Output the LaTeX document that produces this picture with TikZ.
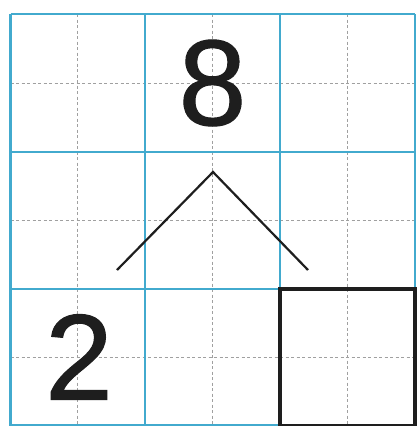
\documentclass[tikz,border=0pt]{standalone}
\usepackage{fontspec}
\setmainfont{Liberation Sans}
\newfontfamily\digitfont{Liberation Sans}[FakeBold=0.9]
\definecolor{gridcyan}{RGB}{66,170,206}
\definecolor{midgray}{RGB}{160,160,160}
\definecolor{ink}{RGB}{30,30,30}
\begin{document}
\begin{tikzpicture}[x=1pt,y=-1pt,
  cell/.style={draw=gridcyan,line width=2.6pt},
  midline/.style={draw=midgray,line width=0.8pt,dash pattern=on 3pt off 2.5pt},
  digit/.style={inner sep=0pt,text=ink,font=\digitfont\fontsize{122}{122}\selectfont},
  vline/.style={draw=ink,line width=2.2pt},
  answerbox/.style={draw=ink,line width=4pt}]
\useasboundingbox (0,0) rectangle (418,426);
\fill[white] (0,0) rectangle (418,426);
% dashed midlines
\foreach \x in {77.5,212.5,347.5} \draw[midline] (\x,14) -- (\x,426);
\foreach \y in {83,220.5,357.5} \draw[midline] (10.5,\y) -- (415,\y);
% cyan grid
\foreach \x in {10.5,145,280,415} \draw[cell] (\x,14) -- (\x,427);
\foreach \y in {14,152,289,425.5} \draw[cell] (10.5,\y) -- (415,\y);
% answer box
\draw[answerbox] (280,289) rectangle (415,425.5);
% digits
\node[digit] (top) at (212.5,83) {8};
\node[digit] (left) at (79,357) {2};
% branches
\coordinate (peak) at (213,172);
\coordinate (lend) at (117,270);
\coordinate (rend) at (308,270);
\draw[vline] (lend) -- (peak) -- (rend);
\end{tikzpicture}
\end{document}
